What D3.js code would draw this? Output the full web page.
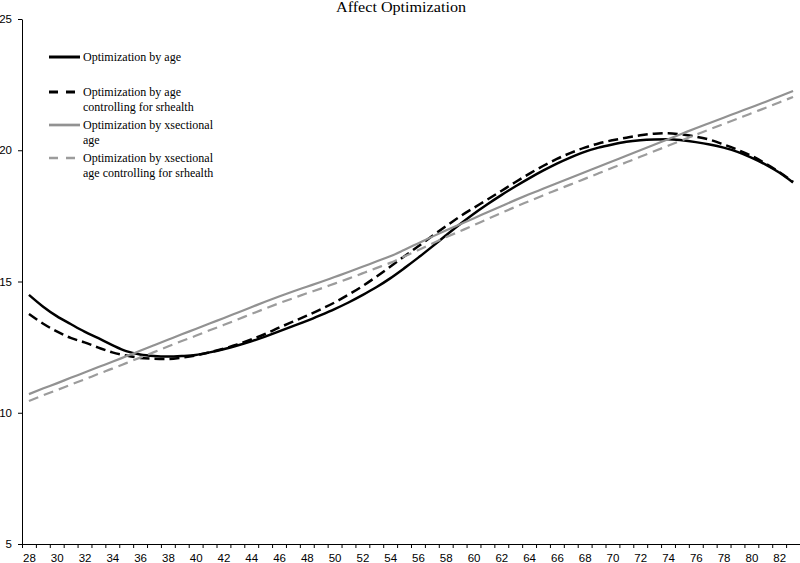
<!DOCTYPE html>
<html>
<head>
<meta charset="utf-8">
<script src="https://cdn.jsdelivr.net/npm/d3@7"></script>
<style>
  body { margin: 0; background: #fff; }
  svg { display: block; font-family: "Liberation Serif", "Times New Roman", serif; }
</style>
</head>
<body>
<script>
// ages on the category axis
var ages = d3.range(28, 84);

// Optimization by age
var byAge = [14.49, 14.05, 13.68, 13.38, 13.09, 12.84, 12.58, 12.35, 12.22, 12.16,
  12.14, 12.16, 12.2, 12.3, 12.42, 12.56, 12.72, 12.9, 13.1, 13.3,
  13.5, 13.72, 13.95, 14.2, 14.48, 14.78, 15.12, 15.5, 15.9, 16.32,
  16.75, 17.17, 17.57, 17.94, 18.29, 18.62, 18.93, 19.22, 19.49, 19.73,
  19.94, 20.1, 20.22, 20.32, 20.38, 20.41, 20.42, 20.38, 20.31, 20.22,
  20.1, 19.94, 19.72, 19.46, 19.15, 18.77];

// Optimization by age controlling for srhealth
var byAgeHealth = [13.76, 13.4, 13.1, 12.85, 12.68, 12.48, 12.3, 12.18, 12.09, 12.06,
  12.05, 12.1, 12.18, 12.3, 12.44, 12.6, 12.79, 13.0, 13.24, 13.47,
  13.7, 13.94, 14.2, 14.5, 14.82, 15.18, 15.56, 15.95, 16.33, 16.72,
  17.1, 17.47, 17.8, 18.12, 18.45, 18.78, 19.1, 19.4, 19.67, 19.9,
  20.1, 20.26, 20.38, 20.48, 20.57, 20.63, 20.65, 20.6, 20.52, 20.4,
  20.22, 20.02, 19.79, 19.5, 19.17, 18.8];

// Optimization by xsectional age
var byXsec = [10.71, 10.92, 11.12, 11.33, 11.53, 11.74, 11.94, 12.15, 12.36, 12.57,
  12.78, 12.99, 13.19, 13.4, 13.6, 13.81, 14.02, 14.23, 14.43, 14.62,
  14.8, 14.98, 15.17, 15.36, 15.56, 15.76, 15.96, 16.2, 16.45, 16.7,
  16.94, 17.17, 17.4, 17.64, 17.87, 18.1, 18.32, 18.53, 18.74, 18.95,
  19.16, 19.37, 19.58, 19.79, 20.0, 20.21, 20.42, 20.63, 20.84, 21.04,
  21.24, 21.44, 21.64, 21.84, 22.05, 22.26];

// Optimization by xsectional age controlling for srhealth
var byXsecHealth = [10.45, 10.66, 10.86, 11.07, 11.27, 11.48, 11.68, 11.89, 12.1, 12.31,
  12.52, 12.73, 12.93, 13.14, 13.34, 13.55, 13.76, 13.97, 14.17, 14.36,
  14.55, 14.73, 14.92, 15.11, 15.31, 15.51, 15.71, 15.95, 16.19, 16.44,
  16.68, 16.91, 17.14, 17.38, 17.61, 17.84, 18.06, 18.28, 18.49, 18.7,
  18.91, 19.12, 19.33, 19.54, 19.75, 19.96, 20.17, 20.38, 20.59, 20.8,
  21.0, 21.2, 21.41, 21.61, 21.82, 22.03];

var yTicks = [5, 10, 15, 20, 25];
var xLabels = d3.range(28, 84, 2);

var series = [
  {name: ["Optimization by age"], values: byAge, color: "#000", width: 2.5, dash: null},
  {name: ["Optimization by age", "controlling for srhealth"], values: byAgeHealth, color: "#000", width: 2.5, dash: "10,5"},
  {name: ["Optimization by xsectional", "age"], values: byXsec, color: "#929292", width: 2.2, dash: null},
  {name: ["Optimization by xsectional", "age controlling for srhealth"], values: byXsecHealth, color: "#9c9c9c", width: 2.2, dash: "10,6"}
];

var W = 800, H = 563;
var svg = d3.select("body").append("svg")
    .attr("width", W)
    .attr("height", H);

// scales: category axis, one band per age
var x = d3.scaleLinear().domain([27.5, 83.5]).range([22, 800]);
var y = d3.scaleLinear().domain([5, 25]).range([544, 19]);

// title
svg.append("text")
    .attr("x", 401)
    .attr("y", 12)
    .attr("text-anchor", "middle")
    .attr("font-size", "14.5px")
    .attr("textLength", 130)
    .attr("lengthAdjust", "spacingAndGlyphs")
    .attr("fill", "#000")
    .text("Affect Optimization");

// y axis
var yAxis = svg.append("g")
    .attr("transform", "translate(22,0)")
    .call(d3.axisLeft(y).tickValues(yTicks).tickSize(4).tickSizeOuter(0).tickPadding(6));
yAxis.selectAll("text").attr("font-family", null).attr("font-size", "11.5px").attr("fill", "#000");

// x axis: tick marks between categories, labels every other age
var halfTicks = d3.range(27.5, 84, 1);
var xAxis = svg.append("g")
    .attr("transform", "translate(0,544)")
    .call(d3.axisBottom(x).tickValues(halfTicks).tickFormat("").tickSize(4).tickSizeOuter(0));
var xLab = svg.append("g")
    .attr("transform", "translate(0,544)")
    .call(d3.axisBottom(x).tickValues(xLabels).tickFormat(d3.format("d")).tickSize(0).tickPadding(10));
xLab.select(".domain").remove();
xLab.selectAll("text").attr("font-family", null).attr("font-size", "11.5px").attr("fill", "#000");

// lines
var line = d3.line()
    .x(function(d, i) { return x(ages[i]); })
    .y(function(d) { return y(d); })
    .curve(d3.curveMonotoneX);

series.forEach(function(s) {
    svg.append("path")
        .datum(s.values)
        .attr("fill", "none")
        .attr("stroke", s.color)
        .attr("stroke-width", s.width)
        .attr("stroke-dasharray", s.dash)
        .attr("d", line);
});

// legend
var legendY = [57, 92, 125, 158];
series.forEach(function(s, i) {
    var g = svg.append("g").attr("transform", "translate(0," + legendY[i] + ")");
    g.append("line")
        .attr("x1", 49).attr("x2", 80)
        .attr("y1", 0).attr("y2", 0)
        .attr("stroke", s.color)
        .attr("stroke-width", s.width + 0.5)
        .attr("stroke-dasharray", s.dash ? "9,8" : null);
    s.name.forEach(function(t, j) {
        g.append("text")
            .attr("x", 83)
            .attr("y", j * 14.5 + 4)
            .attr("font-size", "12px")
            .attr("fill", "#000")
            .text(t);
    });
});
</script>
</body>
</html>
